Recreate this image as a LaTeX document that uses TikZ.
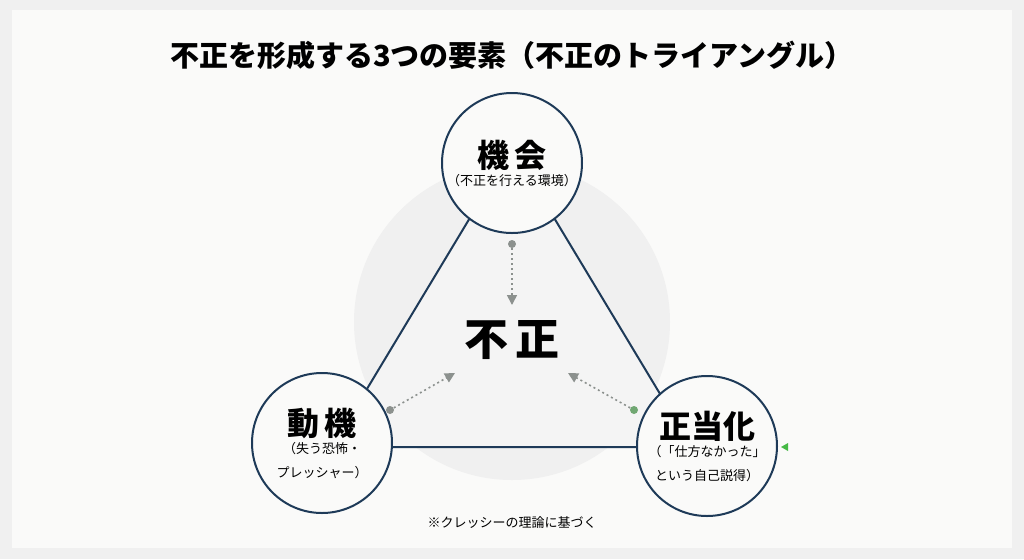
\documentclass[tikz,border=0pt]{standalone}
\usepackage{fontspec}
\setmainfont{Noto Sans CJK JP}
\usetikzlibrary{arrows.meta}
\definecolor{navy}{RGB}{30,58,88}
\definecolor{dotgray}{RGB}{140,145,142}
\definecolor{paper}{RGB}{250,250,249}
\newcommand{\headfont}{\fontsize{16}{20}\selectfont\bfseries}
\newcommand{\subfont}{\fontsize{6.5}{8}\selectfont\mdseries}
\tikzset{
  factor/.style={circle, draw=navy, line width=1pt, fill=paper, minimum size=70pt, inner sep=0pt, align=center},
  flow/.style={dotgray, line width=0.8pt, dash pattern=on 1pt off 1.5pt, -{Triangle[length=5pt,width=5pt]}},
  dotmark/.style={circle, fill=dotgray, minimum size=4pt, inner sep=0pt}
}
\begin{document}
\begin{tikzpicture}[x=0.5pt,y=-0.5pt]
\useasboundingbox (0,0) rectangle (1024,559);
\fill[gray!12] (0,0) rectangle (1024,559);
\fill[paper] (12,10) rectangle (1012,548);

% title
\node[font=\fontsize{14.5}{16}\selectfont\bfseries] (title) at (512,55) {不正を形成する3つの要素（不正のトライアングル）};

% background disc and triangle
\fill[gray!12] (512,322) circle (158);
\draw[navy, line width=1pt, fill=gray!9] (512,148) -- (332,447) -- (692,447) -- cycle;

% centre
\node[font=\fontsize{22}{24}\selectfont\bfseries] (fraud) at (512,340) {不\,正};

% factors
\node[factor] (opp) at (512,163) {{\headfont 機\,会}\\[-3pt]{\subfont （不正を行える環境）}};
\node[factor] (mot) at (322,443) {{\headfont 動\,機}\\[-3pt]{\subfont （失う恐怖・}\\{\subfont プレッシャー）}};
\node[factor] (rat) at (707,446) {{\headfont 正当化}\\[-3pt]{\subfont （「仕方なかった」}\\{\subfont という自己説得）}};

% flows
\node[dotmark] (d1) at (512,244) {};
\node[dotmark] (d2) at (390,410) {};
\node[dotmark, fill=dotgray!80!green] (d3) at (634,410) {};
\coordinate (t1) at (512,305);
\coordinate (t2) at (455,373);
\coordinate (t3) at (568,373);
\draw[flow] (d1) -- (t1);
\draw[flow] (d2) -- (t2);
\draw[flow] (d3) -- (t3);

% marker
\fill[green!45!gray] (781,447) -- (788,443) -- (788,451) -- cycle;

% note
\node[font=\fontsize{6.5}{8}\selectfont] (note) at (512,523) {※クレッシーの理論に基づく};
\end{tikzpicture}
\end{document}
